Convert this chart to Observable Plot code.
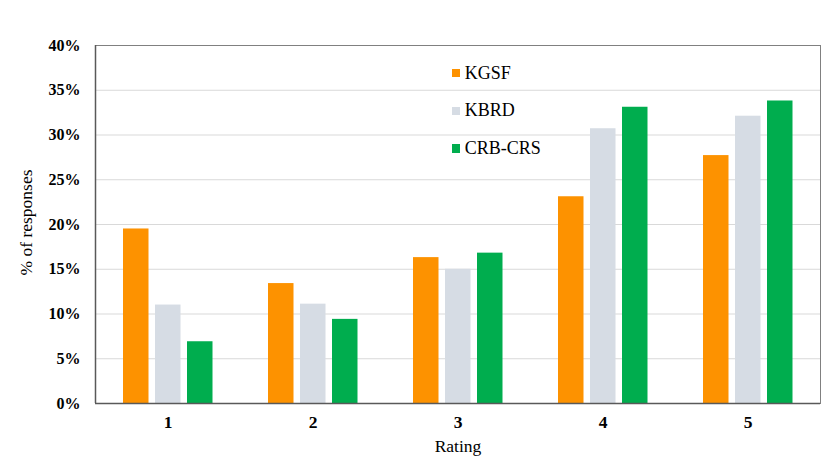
<!DOCTYPE html>
<html>
<head>
<meta charset="utf-8">
<script src="https://cdn.jsdelivr.net/npm/d3@7"></script>
<script src="https://cdn.jsdelivr.net/npm/@observablehq/plot@0.6"></script>
<style>
  body { margin: 0; background: #fff; }
  #wrap { position: relative; width: 830px; height: 467px; font-family: 'Liberation Serif', 'Times New Roman', serif; }
  #wrap svg, #wrap svg text { font-family: 'Liberation Serif', 'Times New Roman', serif !important; }
  .legend { position: absolute; left: 451.5px; top: 54.5px; font-size: 18px; color: #000; }
  .legend div { display: flex; align-items: center; height: 37.6px; }
  .legend span.sw { display: inline-block; width: 8.3px; height: 8.3px; margin-right: 5px; }
</style>
</head>
<body>
<div id="wrap"></div>
<script>
const ratings = ["1", "2", "3", "4", "5"];
const seriesNames = ["KGSF", "KBRD", "CRB-CRS"];
const kgsf = [19.5, 13.4, 16.3, 23.1, 27.7];
const kbrd = [11.0, 11.1, 15.0, 30.7, 32.1];
const crbcrs = [6.9, 9.4, 16.8, 33.1, 33.8];
const colors = ["#FD9200", "#D6DCE4", "#00AD4E"];
const yTicks = [0, 5, 10, 15, 20, 25, 30, 35, 40];

const seriesValues = [kgsf, kbrd, crbcrs];
const rows = seriesNames.map((s, si) => ratings.map((r, i) => ({rating: r, series: s, value: seriesValues[si][i]})));
// per-series bar placement within each rating band
const insets = [[28, 91.5], [60, 59.5], [92, 27.5]];

const chart = Plot.plot({
  width: 830,
  height: 467,
  marginLeft: 95,
  marginRight: 10,
  marginTop: 45,
  marginBottom: 64,
  style: {fontSize: "16px", color: "#000", background: "#fff"},
  x: {domain: ratings, padding: 0, label: null},
  y: {domain: [0, 40], label: null},
  marks: [
    Plot.gridY(yTicks.filter(d => d > 0 && d < 40), {stroke: "#d9d9d9", strokeOpacity: 1, strokeWidth: 1}),
    ...rows.map((data, si) => Plot.barY(data, {
      x: "rating", y: "value", fill: colors[si],
      insetLeft: insets[si][0], insetRight: insets[si][1]
    })),
    Plot.axisY(yTicks, {tickSize: 0, tickPadding: 15, tickFormat: d => d + "%", fontWeight: "bold", fontSize: 16, label: null}),
    Plot.axisX(ratings, {tickSize: 0, tickPadding: 12.5, fontWeight: "bold", fontSize: 17.5, label: null}),
    Plot.frame({stroke: "#808080", strokeWidth: 1}),
    Plot.ruleY([0], {stroke: "#595959", strokeWidth: 1.5}),
    Plot.ruleX([ratings[0]], {stroke: "#595959", strokeWidth: 1.5, dx: -72.5})
  ]
});

const wrap = document.getElementById("wrap");
wrap.appendChild(chart);

// axis titles
const svg = d3.select(chart);
svg.append("text").attr("x", 458).attr("y", 452).attr("text-anchor", "middle")
  .style("font-size", "17.5px").text("Rating");
svg.append("text").attr("transform", "translate(31.5,222.5) rotate(-90)").attr("text-anchor", "middle")
  .style("font-size", "17.5px").text("% of responses");

// legend inside plot area
const legend = document.createElement("div");
legend.className = "legend";
seriesNames.forEach((s, i) => {
  const row = document.createElement("div");
  const sw = document.createElement("span");
  sw.className = "sw";
  sw.style.background = colors[i];
  row.appendChild(sw);
  row.appendChild(document.createTextNode(s));
  legend.appendChild(row);
});
wrap.appendChild(legend);
</script>
</body>
</html>
